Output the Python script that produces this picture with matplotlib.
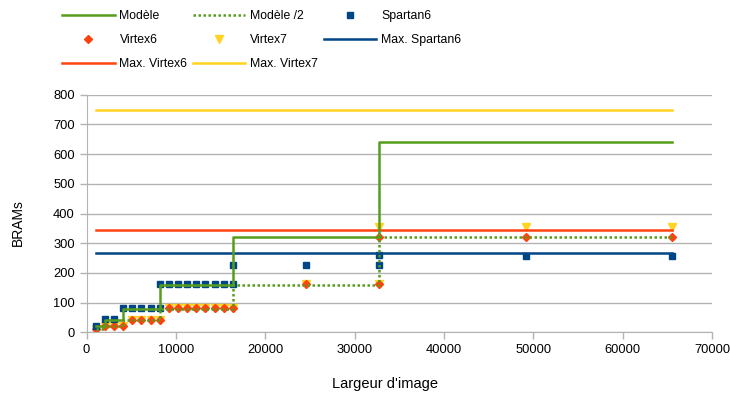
import matplotlib
matplotlib.use("Agg")
import matplotlib.pyplot as plt
import numpy as np

plt.rcParams['font.family'] = ['Liberation Sans', 'DejaVu Sans']

# model curves (step at each image width)
model_x = [1024, 2048, 4096, 8192, 16384, 32768, 65536]
model_y = [20, 40, 80, 160, 320, 640, 640]
model_half_y = [10, 20, 40, 80, 160, 320, 320]

# measured BRAM counts
spartan6_x = [1024, 2048, 3072, 4096, 5120, 6144, 7168, 8192,
              8192, 9216, 10240, 11264, 12288, 13312, 14336, 15360, 16384,
              16384, 24576, 32768, 32768, 49152, 65536]
spartan6_y = [22, 45, 45, 81, 81, 81, 81, 81,
              161, 161, 161, 161, 161, 161, 161, 161, 161,
              227, 227, 227, 260, 258, 258]

virtex6_x = [1024, 2048, 3072, 4096, 5120, 6144, 7168, 8192,
             9216, 10240, 11264, 12288, 13312, 14336, 15360, 16384,
             24576, 32768, 32768, 49152, 65536]
virtex6_y = [11, 22, 22, 22, 42, 42, 42, 42,
             81, 81, 81, 81, 81, 81, 81, 81,
             161, 161, 321, 321, 321]

virtex7_x = [1024, 2048, 3072, 4096, 5120, 6144, 7168, 8192,
             9216, 10240, 11264, 12288, 13312, 14336, 15360, 16384,
             24576, 32768, 32768, 49152, 65536]
virtex7_y = [11, 22, 22, 22, 42, 42, 42, 42,
             81, 81, 81, 81, 81, 81, 81, 81,
             161, 161, 356, 356, 356]

max_x = [1024, 65536]
max_spartan6 = 268
max_virtex6 = 344
max_virtex7 = 750

green = '#579d1c'
blue = '#004586'
orange = '#ff420e'
yellow = '#ffd320'

fig = plt.figure(figsize=(7.30, 3.97), dpi=100)
ax = fig.add_axes([86.5 / 730, 1 - 332.3 / 397, (712 - 86.5) / 730, (332.3 - 94.7) / 397])

h_v7, = ax.plot(virtex7_x, virtex7_y, ls='none', marker='v', color=yellow, ms=6, zorder=2)
h_v6, = ax.plot(virtex6_x, virtex6_y, ls='none', marker='D', color=orange, ms=4.5, zorder=2.1)
h_s6, = ax.plot(spartan6_x, spartan6_y, ls='none', marker='s', color=blue, ms=4.6, zorder=2.2)

h_mod, = ax.plot(model_x, model_y, drawstyle='steps-post', color=green, lw=1.8, zorder=3)
h_mod2, = ax.plot(model_x, model_half_y, drawstyle='steps-post', color=green, lw=1.8,
                  ls=(0, (1, 1)), zorder=3)

h_ms6, = ax.plot(max_x, [max_spartan6] * 2, color=blue, lw=1.8, zorder=2.5)
h_mv6, = ax.plot(max_x, [max_virtex6] * 2, color=orange, lw=1.8, zorder=2.5)
h_mv7, = ax.plot(max_x, [max_virtex7] * 2, color=yellow, lw=1.8, zorder=2.5)

ax.set_xlim(0, 70000)
ax.set_ylim(0, 800)
ax.set_xticks(np.arange(0, 70001, 10000))
ax.set_yticks(np.arange(0, 801, 100))
ax.yaxis.grid(True, color='#b3b3b3', lw=1)
ax.set_axisbelow(True)
for s in ['top', 'right']:
    ax.spines[s].set_visible(False)
for s in ['left', 'bottom']:
    ax.spines[s].set_color('#b3b3b3')
ax.tick_params(colors='#b3b3b3', labelcolor='black', labelsize=9.3, length=5, width=1)

fig.text(18 / 730, 1 - 223 / 397, 'BRAMs', rotation=90, ha='center', va='center', fontsize=10)
fig.text(385 / 730, 1 - 384 / 397, "Largeur d'image", ha='center', va='center', fontsize=10.5)

handles = [h_mod, h_v6, h_mv6, h_mod2, h_v7, h_mv7, h_s6, h_ms6]
labels = ['Modèle', 'Virtex6', 'Max. Virtex6', 'Modèle /2', 'Virtex7', 'Max. Virtex7',
          'Spartan6', 'Max. Spartan6']
fig.legend(handles, labels, ncol=3, loc='upper left', bbox_to_anchor=(62 / 730, 1 - 10 / 397),
           frameon=False, fontsize=8.8, handlelength=4.3, handletextpad=0.4,
           columnspacing=0.45, borderpad=0, borderaxespad=0, labelspacing=1.0)

fig.savefig('out.png', dpi=100)
